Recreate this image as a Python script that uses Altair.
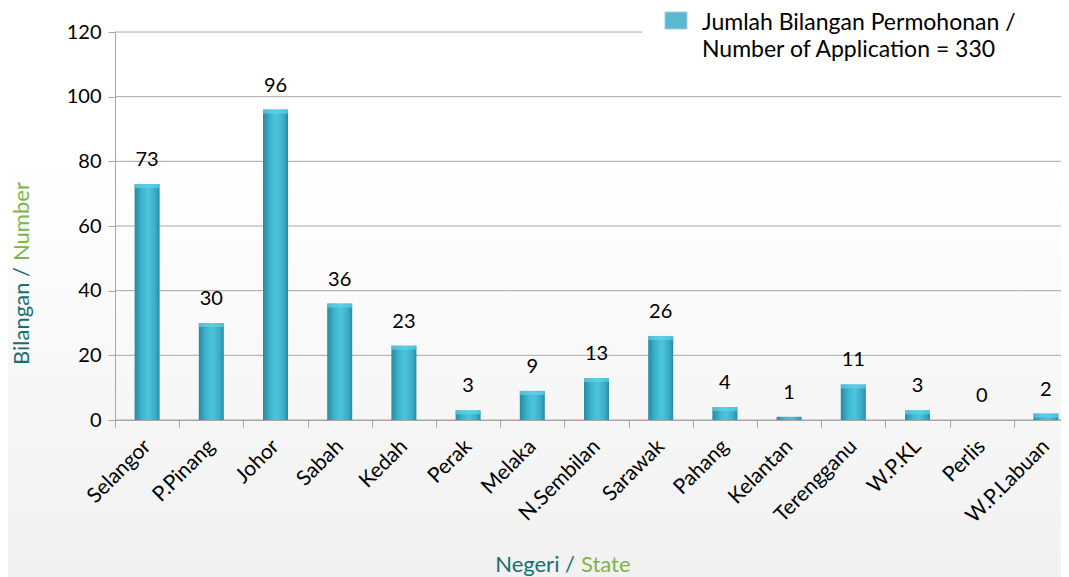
import altair as alt
import pandas as pd

states = ["Selangor", "P.Pinang", "Johor", "Sabah", "Kedah", "Perak", "Melaka",
          "N.Sembilan", "Sarawak", "Pahang", "Kelantan", "Terengganu", "W.P.KL",
          "Perlis", "W.P.Labuan"]
values = [73, 30, 96, 36, 23, 3, 9, 13, 26, 4, 1, 11, 3, 0, 2]
y_ticks = [0, 20, 40, 60, 80, 100, 120]
legend_lines = ["Jumlah Bilangan Permohonan /", "Number of Application = 330"]

W, H = 946, 388
XR = 963
FONT = "Lato"
TEAL = "#17706f"
GREEN = "#7ab648"

df = pd.DataFrame({"state": states, "value": values})
ticks_df = pd.DataFrame({"tick": y_ticks})

x_scale = alt.Scale(paddingInner=0, paddingOuter=0, range=[0, XR])
x_enc = alt.X("state:N", sort=states, scale=x_scale,
              axis=alt.Axis(title=None, labelAngle=-45, labelFont=FONT, labelFontSize=21,
                            labelColor="#000000", labelPadding=16, labelBaseline="middle",
                            labelAlign="right", domainColor="#a6a6a6",
                            tickColor="#a6a6a6", tickSize=7, tickBand="extent", grid=False,
                            labelOverlap=False, zindex=1))
y_scale = alt.Scale(domain=[0, 120])
y_enc = alt.Y("value:Q", scale=y_scale,
              axis=alt.Axis(title=None, values=y_ticks, grid=False, labelFont=FONT,
                            labelFontSize=20, labelColor="#000000", labelPadding=7,
                            domainColor="#a6a6a6", tickColor="#a6a6a6", tickSize=7,
                            zindex=1))

one = pd.DataFrame({"a": [0]})

# background gradient
bg = alt.Chart(one).mark_rect(
    color=alt.Gradient(gradient="linear",
                       stops=[alt.GradientStop(color="#ffffff", offset=0),
                              alt.GradientStop(color="#ffffff", offset=0.25),
                              alt.GradientStop(color="#f1f1f1", offset=1)],
                       x1=0, x2=0, y1=0, y2=1)
).encode(x=alt.value(-107), x2=alt.value(W), y=alt.value(-24), y2=alt.value(H + 157))

grid = alt.Chart(ticks_df).transform_filter("datum.tick < 120").mark_rule(
    color="#a8a8a8", strokeWidth=1
).encode(y=alt.Y("tick:Q", scale=y_scale), x=alt.value(0), x2=alt.value(W))

grid_top = alt.Chart(ticks_df).transform_filter("datum.tick == 120").mark_rule(
    color="#a8a8a8", strokeWidth=1
).encode(y=alt.Y("tick:Q", scale=y_scale), x=alt.value(0), x2=alt.value(527))

bar_grad = alt.Gradient(gradient="linear",
                        stops=[alt.GradientStop(color="#2a889e", offset=0),
                               alt.GradientStop(color="#3db6d0", offset=0.3),
                               alt.GradientStop(color="#4cc5de", offset=0.55),
                               alt.GradientStop(color="#38aac4", offset=0.85),
                               alt.GradientStop(color="#2a889e", offset=1)],
                        x1=0, x2=1, y1=0, y2=0)

bars = alt.Chart(df).mark_bar(size=25, color=bar_grad).encode(x=x_enc, y=y_enc)

caps = alt.Chart(df).transform_filter("datum.value > 1").mark_tick(
    size=25, thickness=4, yOffset=2, color="#63d2e8", opacity=0.7
).encode(x=alt.X("state:N", sort=states, scale=x_scale), y=alt.Y("value:Q", scale=y_scale))

labels = alt.Chart(df).mark_text(
    font=FONT, fontSize=20, color="#000000", baseline="middle", dy=-24
).encode(x=alt.X("state:N", sort=states, scale=x_scale), y=alt.Y("value:Q", scale=y_scale),
         text=alt.Text("value:Q"))

swatch = alt.Chart(one).mark_rect(color="#5bb8d0", stroke="#9fcfdc", strokeWidth=1).encode(
    x=alt.value(550), x2=alt.value(572), y=alt.value(-20), y2=alt.value(-3))
leg1 = alt.Chart(one).mark_text(font=FONT, fontSize=23, color="#000000", align="left",
                                baseline="middle").encode(
    x=alt.value(587), y=alt.value(-9), text=alt.value(legend_lines[0]))
leg2 = alt.Chart(one).mark_text(font=FONT, fontSize=23, color="#000000", align="left",
                                baseline="middle").encode(
    x=alt.value(587), y=alt.value(18), text=alt.value(legend_lines[1]))

xt1 = alt.Chart(one).mark_text(font=FONT, fontSize=22, color=TEAL, align="right",
                               baseline="middle").encode(
    x=alt.value(460), y=alt.value(533), text=alt.value("Negeri /"))
xt2 = alt.Chart(one).mark_text(font=FONT, fontSize=22, color=GREEN, align="left",
                               baseline="middle").encode(
    x=alt.value(466), y=alt.value(533), text=alt.value("State"))
yt1 = alt.Chart(one).mark_text(font=FONT, fontSize=22, color=TEAL, align="right",
                               baseline="middle", angle=270).encode(
    x=alt.value(-93), y=alt.value(235), text=alt.value("Bilangan /"))
yt2 = alt.Chart(one).mark_text(font=FONT, fontSize=22, color=GREEN, align="left",
                               baseline="middle", angle=270).encode(
    x=alt.value(-93), y=alt.value(229), text=alt.value("Number"))

chart = alt.layer(bg, grid, grid_top, bars, caps, labels, swatch, leg1, leg2,
                  xt1, xt2, yt1, yt2).properties(
    width=W, height=H,
    autosize=alt.AutoSizeParams(type="none"),
    padding={"left": 107, "top": 24, "right": 0, "bottom": 157},
    background="#ffffff"
).configure_view(stroke=None)

chart.save("out.html", embed_options={"renderer": "svg", "actions": False})
